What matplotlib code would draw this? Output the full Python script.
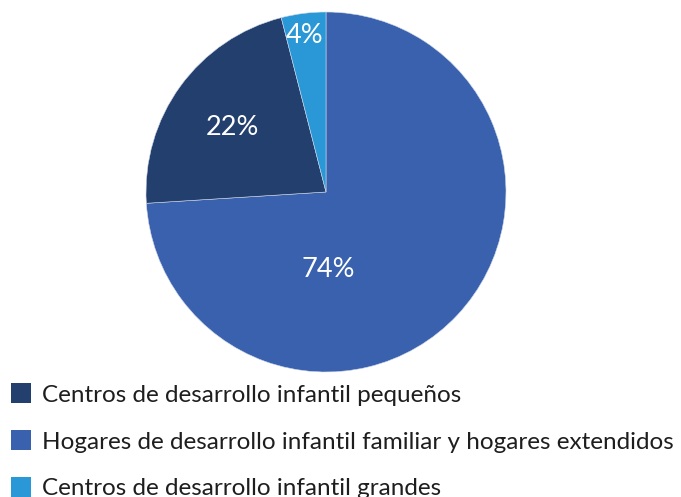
import matplotlib.pyplot as plt
from matplotlib.patches import Patch

# datos del grafico
categorias = ['Hogares de desarrollo infantil familiar y hogares extendidos',
              'Centros de desarrollo infantil pequeños',
              'Centros de desarrollo infantil grandes']
valores = [74, 22, 4]
colores = ['#3A61AE', '#233F6E', '#2A98D6']
# posicion de cada etiqueta (en radios del pastel)
pos_etiquetas = [(0.01, -0.43), (-0.52, 0.36), (-0.12, 0.87)]
orden_leyenda = [1, 0, 2]

plt.rcParams['font.family'] = ['Lato', 'DejaVu Sans']

fig = plt.figure(figsize=(6.81, 4.97), dpi=100)
ax = fig.add_axes([146 / 681, 125 / 497, 360 / 681, 360 / 497])

wedges, texts, autotexts = ax.pie(valores, colors=colores, startangle=90,
                                  counterclock=False, autopct='%d%%',
                                  wedgeprops=dict(edgecolor='#cfd8ea', linewidth=0.4),
                                  textprops=dict(color='white', fontsize=19.5))
for t, (x, y) in zip(autotexts, pos_etiquetas):
    t.set_position((x, y))

ax.set_xlim(-1, 1)
ax.set_ylim(-1, 1)
ax.set_aspect('equal')

handles = [Patch(facecolor=colores[i], edgecolor='none') for i in orden_leyenda]
labels = [categorias[i] for i in orden_leyenda]
fig.legend(handles, labels, loc='upper left', bbox_to_anchor=(4 / 681, 1 - 376 / 497),
           frameon=False, fontsize=17.5, labelcolor='#1e1e1e',
           handlelength=0.82, handleheight=0.9, handletextpad=0.45,
           labelspacing=1.0, borderaxespad=0, borderpad=0.3)

fig.savefig('out.png', dpi=100)
